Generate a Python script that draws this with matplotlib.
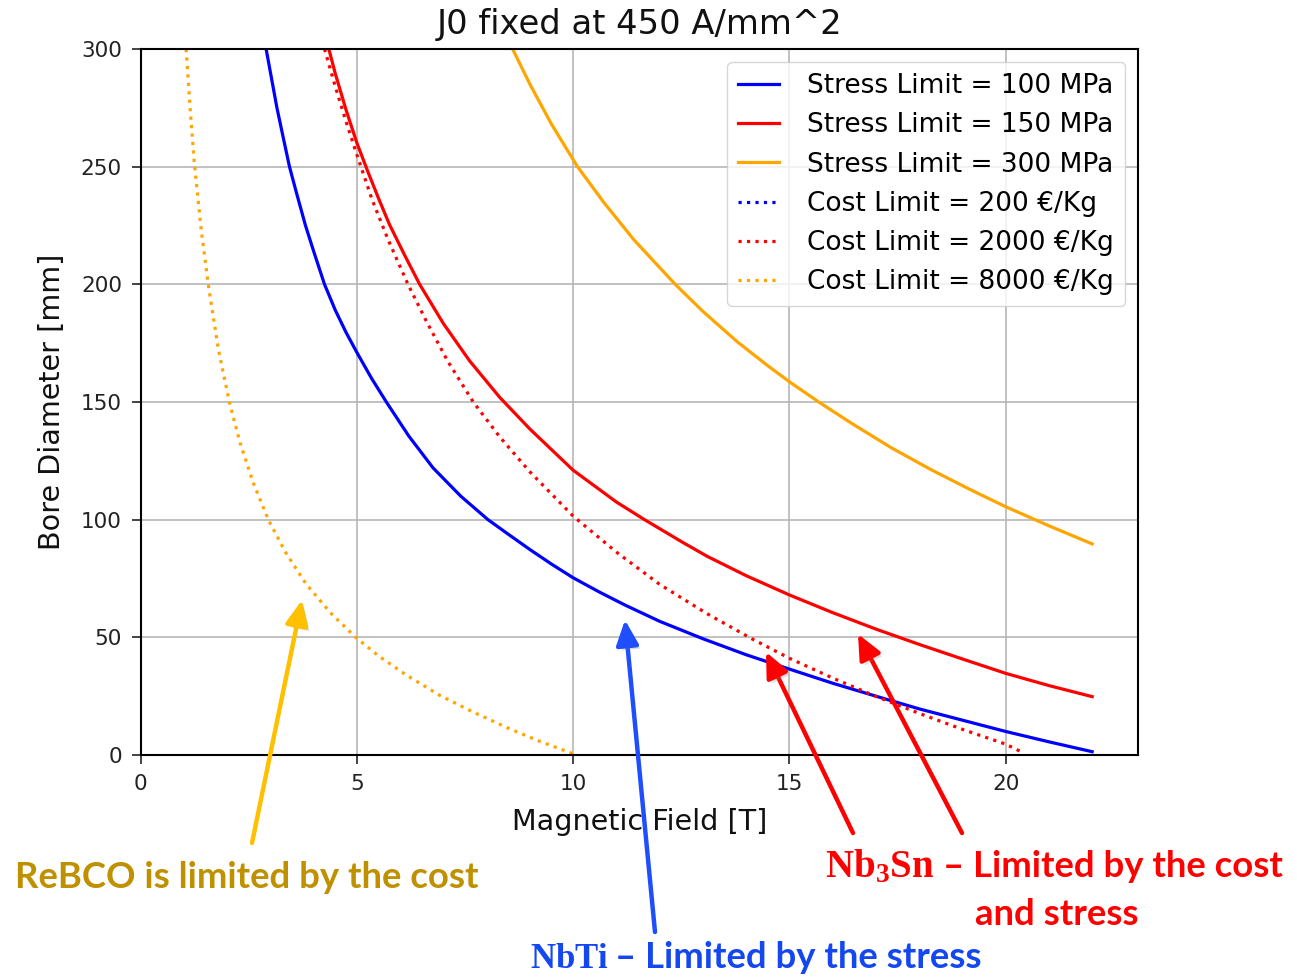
import matplotlib
matplotlib.use("Agg")
import matplotlib.pyplot as plt
from matplotlib.patches import FancyArrowPatch
import matplotlib.patheffects as pe

# ---------------- data ----------------
field_stress_100 = [2.90, 3.00, 3.15, 3.30, 3.44, 3.60, 3.81, 4.00, 4.25, 4.50, 4.75, 5.00, 5.34, 5.68,
                    6.20, 6.76, 7.40, 8.03, 8.50, 9.00, 9.50, 10.0, 10.6, 11.2, 12.0, 13.0, 14.0,
                    15.0, 16.0, 17.0, 18.0, 19.0, 20.0, 21.0, 22.0]
diam_stress_100 = [300, 290, 275, 262, 250, 239, 225, 214, 200, 189, 179.5, 171, 160, 150,
                   135.5, 122, 110, 100, 93.8, 87.3, 81.1, 75.3, 69.3, 63.7, 56.8, 49.4, 42.6,
                   36.5, 30.5, 25, 19.6, 14.8, 10, 5.6, 1.4]

field_stress_150 = [4.35, 4.50, 4.75, 5.00, 5.25, 5.50, 5.75, 6.10, 6.45, 7.00, 7.60, 8.30, 9.00,
                    10.0, 11.0, 11.65, 12.5, 13.1, 14.0, 15.0, 16.0, 17.0, 18.0, 19.0, 20.0, 21.0, 22.0]
diam_stress_150 = [300, 289.5, 274, 260, 248, 236.5, 225.5, 212.5, 200, 183.3, 167.6, 152, 138.5,
                   121, 107.5, 100, 90.7, 84.4, 76.2, 68, 60.5, 53.5, 47, 40.8, 34.7, 29.5, 24.8]

field_stress_300 = [8.60, 9.00, 9.50, 10.1, 10.7, 11.4, 12.36, 13.0, 13.8, 14.5, 15.0, 15.67, 16.5,
                    17.38, 18.3, 19.2, 20.0, 21.0, 22.0]
diam_stress_300 = [300, 285, 268, 250, 235, 219, 200, 188.5, 175.5, 165.4, 158.6, 150.1, 140.2,
                   130.3, 121, 112.6, 105.5, 97.4, 89.7]

field_cost_200 = []
diam_cost_200 = []

field_cost_2000 = [4.25, 4.50, 4.75, 5.00, 5.35, 5.72, 6.18, 6.60, 7.10, 7.69, 8.30, 9.00, 10.0,
                   11.0, 12.0, 13.1, 14.13, 15.0, 16.0, 17.0, 18.0, 19.0, 20.0, 20.4]
diam_cost_2000 = [300, 284, 269, 255, 236, 219, 200, 184.5, 167.3, 150, 135.2, 120.3, 101.5,
                  86.2, 72.5, 60.0, 49.4, 41.1, 32.7, 24.9, 17.7, 10.9, 4.6, 1.0]

field_cost_8000 = [1.05, 1.15, 1.24, 1.40, 1.57, 1.80, 2.05, 2.30, 2.60, 2.95, 3.35, 3.83, 4.40,
                   4.97, 5.50, 6.14, 6.90, 7.69, 8.50, 9.20, 10.0]
diam_cost_8000 = [300, 273, 251.5, 223, 199, 172, 150, 132.5, 115.8, 100, 86.1, 72.5, 60.2,
                  50, 42.1, 34, 25.5, 18.2, 11.4, 6.0, 0.5]

series_labels = ["Stress Limit = 100 MPa", "Stress Limit = 150 MPa", "Stress Limit = 300 MPa",
                 "Cost Limit = 200 €/Kg", "Cost Limit = 2000 €/Kg", "Cost Limit = 8000 €/Kg"]
x_ticks = [0, 5, 10, 15, 20]
y_ticks = [0, 50, 100, 150, 200, 250, 300]

# ---------------- figure ----------------
W, H = 1297, 977
plt.rcParams['mathtext.fontset'] = 'custom'
plt.rcParams['mathtext.bf'] = 'Liberation Serif:bold'
plt.rcParams['mathtext.rm'] = 'Liberation Serif:bold'

fig = plt.figure(figsize=(W / 100, H / 100), dpi=100)
ax = fig.add_axes([140.7 / W, 1 - 755 / H, (1138 - 140.7) / W, (755 - 49) / H])

lw = 2.3
ax.plot(field_stress_100, diam_stress_100, color='blue', lw=lw, label=series_labels[0])
ax.plot(field_stress_150, diam_stress_150, color='red', lw=lw, label=series_labels[1])
ax.plot(field_stress_300, diam_stress_300, color='orange', lw=lw, label=series_labels[2])
ax.plot(field_cost_200, diam_cost_200, color='blue', lw=lw, ls=':', label=series_labels[3])
ax.plot(field_cost_2000, diam_cost_2000, color='red', lw=lw, ls=':', label=series_labels[4])
ax.plot(field_cost_8000, diam_cost_8000, color='orange', lw=lw, ls=':', label=series_labels[5])

ax.set_xlim(0, 23.06)
ax.set_ylim(0, 300)
ax.set_xticks(x_ticks)
ax.set_yticks(y_ticks)
ax.grid(True, color='#b0b0b0', lw=1.1)
ax.tick_params(labelsize=15.5, length=6.5, width=1.2, pad=7, colors='#222222')
for s in ax.spines.values():
    s.set_linewidth(1.5)

ax.set_title("J0 fixed at 450 A/mm^2", fontsize=24.3, pad=11, color='#111111')
ax.set_xlabel("Magnetic Field [T]", fontsize=20.6, labelpad=10, color='#111111')
ax.set_ylabel("Bore Diameter [mm]", fontsize=20.6, labelpad=11, color='#111111')

leg = ax.legend(loc='upper right', fontsize=19, handlelength=1.55, handletextpad=1.05,
                labelspacing=0.5, borderpad=0.42, borderaxespad=0.5, framealpha=0.8)

# ---------------- annotations ----------------
def P(x, y):
    return (x / W, 1 - y / H)

shadow = [pe.SimplePatchShadow(offset=(2.5, -2.5), alpha=0.25, shadow_rgbFace='#777777'), pe.Normal()]

def arrow(tail, head, color):
    a = FancyArrowPatch(P(*tail), P(*head), transform=fig.transFigure,
                        arrowstyle="-|>,head_length=0.75,head_width=0.34", mutation_scale=20,
                        color=color, lw=3.2, shrinkA=0, shrinkB=0, path_effects=shadow)
    fig.add_artist(a)

arrow((252, 843), (302, 600), '#FFC000')
arrow((655, 932), (625, 620), '#1F4EFF')
arrow((853, 833), (766, 652), '#FF0000')
arrow((962, 833), (858, 634), '#FF0000')

sans = 'Lato'
ss = 26.3
fig.text(*P(15, 888), "ReBCO is limited by the cost", fontsize=ss, fontweight='bold',
         family=sans, color='#BF9000', ha='left', va='baseline')

fig.text(*P(530, 968), r"$\mathbf{NbTi}$", fontsize=25, color='#1447F0', ha='left', va='baseline')
fig.text(*P(615, 968), "– Limited by the stress", fontsize=ss, fontweight='bold', family=sans,
         color='#1447F0', ha='left', va='baseline')

fig.text(*P(825, 877), r"$\mathbf{Nb_3Sn}$", fontsize=28, color='#FF0000', ha='left', va='baseline')
fig.text(*P(943, 877), "– Limited by the cost", fontsize=ss, fontweight='bold', family=sans,
         color='#FF0000', ha='left', va='baseline')
fig.text(*P(1057, 925), "and stress", fontsize=ss, fontweight='bold', family=sans,
         color='#FF0000', ha='center', va='baseline')

fig.savefig("out.png", dpi=100)
